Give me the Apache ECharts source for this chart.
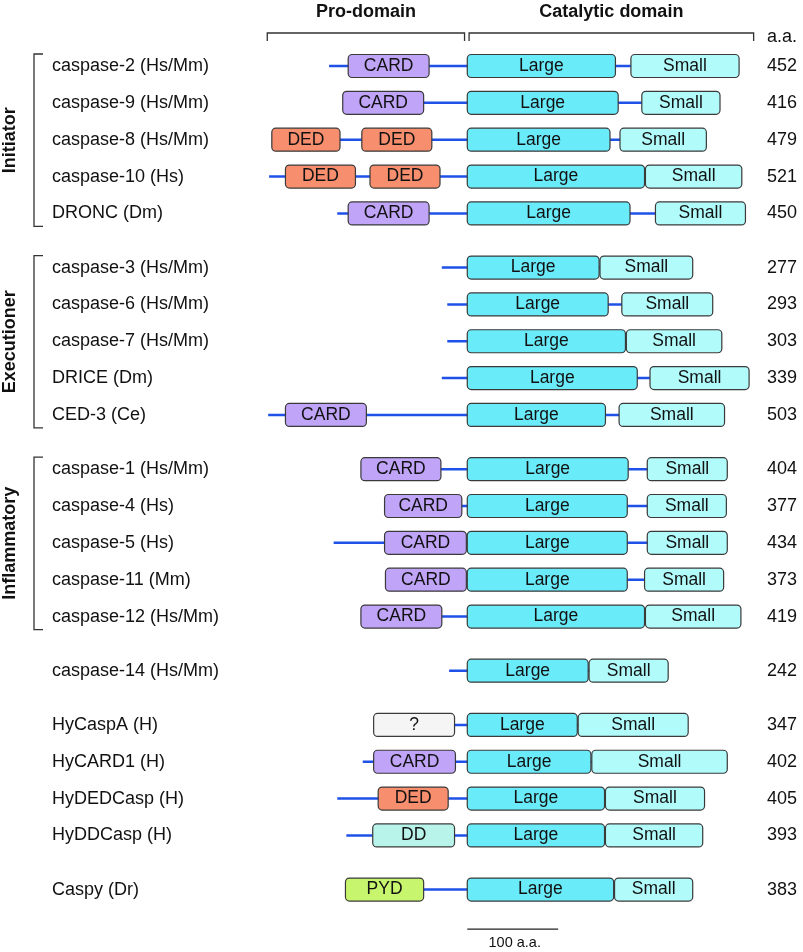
<!DOCTYPE html>
<html>
<head>
<meta charset="utf-8">
<script src="https://cdn.jsdelivr.net/npm/echarts@6/dist/echarts.min.js"></script>
<style>
  html, body { margin: 0; padding: 0; background: #fff; }
  #chart { width: 803px; height: 952px; }
</style>
</head>
<body>
<div id="chart"></div>
<script>
// protein names (top to bottom)
const names = [
  'caspase-2 (Hs/Mm)', 'caspase-9 (Hs/Mm)', 'caspase-8 (Hs/Mm)', 'caspase-10 (Hs)', 'DRONC (Dm)',
  'caspase-3 (Hs/Mm)', 'caspase-6 (Hs/Mm)', 'caspase-7 (Hs/Mm)', 'DRICE (Dm)', 'CED-3 (Ce)',
  'caspase-1 (Hs/Mm)', 'caspase-4 (Hs)', 'caspase-5 (Hs)', 'caspase-11 (Mm)', 'caspase-12 (Hs/Mm)',
  'caspase-14 (Hs/Mm)',
  'HyCaspA (H)', 'HyCARD1 (H)', 'HyDEDCasp (H)', 'HyDDCasp (H)',
  'Caspy (Dr)'
]
// total length in amino acids
const lengths = [452, 416, 479, 521, 450, 277, 293, 303, 339, 503, 404, 377, 434, 373, 419, 242, 347, 402, 405, 393, 383]
// large subunit [start, end] (residues)
const largeDomain = [
  [153, 316], [138, 304], [216, 373], [219, 414], [144, 323],
  [29, 174], [23, 178], [23, 197], [29, 216], [220, 372],
  [118, 295], [92, 268], [148, 324], [91, 267], [118, 313],
  [21, 154],
  [104, 225], [116, 252], [144, 295], [134, 285],
  [135, 296]
]
// small subunit [start, end]
const smallDomain = [
  [333, 452], [330, 416], [384, 479], [415, 521], [351, 450],
  [175, 277], [193, 293], [198, 303], [230, 339], [387, 503],
  [316, 404], [290, 377], [346, 434], [286, 373], [314, 419],
  [155, 242],
  [226, 347], [253, 402], [296, 405], [286, 393],
  [297, 383]
]
// pro-domains [type, start, end]
const proDomains = [
  [['CARD', 22, 111]],
  [['CARD', 1, 90]],
  [['DED', 1, 76], ['DED', 100, 177]],
  [['DED', 19, 96], ['DED', 112, 189]],
  [['CARD', 13, 102]],
  [], [], [], [],
  [['CARD', 20, 109]],
  [['CARD', 1, 89]],
  [['CARD', 1, 86]],
  [['CARD', 57, 147]],
  [['CARD', 1, 90]],
  [['CARD', 1, 90]],
  [],
  [['?', 1, 90]],
  [['CARD', 13, 103]],
  [['DED', 46, 123]],
  [['DD', 30, 120]],
  [['PYD', 1, 87]]
]
// groups: label and row count
const groupLabels = ['Initiator', 'Executioner', 'Inflammatory', '', '', '']
const groupSizes = [5, 5, 5, 1, 4, 1]

const domainTypes = ['Large', 'Small', 'CARD', 'DED', 'DD', 'PYD', '?']
const domainColors = ['#6aebfa', '#b2fbfb', '#c0a4f8', '#f78e6e', '#b8f4ea', '#c8f56e', '#f5f5f5']

const FONT = "'Liberation Sans', Arial, sans-serif"
const BOX_H = 23
const LINE_BLUE = '#1f50e8'
const GROUP_GAP = 0.47

// row positions: one unit per row, a bit less than half a unit extra between groups
const rowPos = []
const groupRanges = []
groupSizes.forEach((n, g) => {
  const first = rowPos.length
  for (let i = 0; i < n; i++) rowPos.push(rowPos.length + GROUP_GAP * g)
  groupRanges.push([rowPos[first], rowPos[rowPos.length - 1], g])
})

// x = residue - start of large subunit, so catalytic domains line up
const backboneData = names.map((_, i) => [1 - largeDomain[i][0], lengths[i] - largeDomain[i][0], rowPos[i]])
const domainData = []
names.forEach((_, i) => {
  const off = largeDomain[i][0]
  proDomains[i].forEach(d => {
    domainData.push([d[1] - off, d[2] - off, rowPos[i], domainTypes.indexOf(d[0])])
  })
  domainData.push([0, largeDomain[i][1] - off, rowPos[i], 0])
  domainData.push([smallDomain[i][0] - off, smallDomain[i][1] - off, rowPos[i], 1])
})

const chart = echarts.init(document.getElementById('chart'))

const option = {
  animation: false,
  grid: { left: 240, width: 500, top: 29.15, height: 921.25 },
  xAxis: { type: 'value', min: -250, max: 300, show: false },
  yAxis: { type: 'value', min: -1, max: 24, inverse: true, show: false },
  series: [
    {
      name: 'backbone',
      type: 'custom',
      encode: { x: [0, 1], y: 2 },
      data: backboneData,
      z: 1,
      renderItem: (params, api) => {
        const a = api.coord([api.value(0), api.value(2)])
        const b = api.coord([api.value(1), api.value(2)])
        return {
          type: 'line',
          shape: { x1: a[0], y1: a[1], x2: b[0], y2: b[1] },
          style: { stroke: LINE_BLUE, lineWidth: 2.5 }
        }
      }
    },
    {
      name: 'domains',
      type: 'custom',
      encode: { x: [0, 1], y: 2 },
      data: domainData,
      z: 2,
      renderItem: (params, api) => {
        const a = api.coord([api.value(0), api.value(2)])
        const b = api.coord([api.value(1), api.value(2)])
        const t = api.value(3)
        return {
          type: 'rect',
          shape: { x: a[0], y: a[1] - BOX_H / 2, width: b[0] - a[0], height: BOX_H, r: 4 },
          style: { fill: domainColors[t], stroke: '#3a3a3a', lineWidth: 1.2 },
          textContent: {
            style: { text: domainTypes[t], fontSize: 17.5, fontFamily: FONT, fill: '#111' }
          },
          textConfig: { position: 'inside' }
        }
      }
    },
    {
      name: 'rowLabels',
      type: 'custom',
      encode: { x: 0, y: 1 },
      data: names.map((_, i) => [0, rowPos[i]]),
      renderItem: (params, api) => {
        const y = api.coord([0, api.value(1)])[1]
        const i = params.dataIndex
        return {
          type: 'group',
          children: [
            { type: 'text', x: 52, y: y,
              style: { text: names[i], fontSize: 18, fontFamily: FONT, fill: '#111', align: 'left', verticalAlign: 'middle' } },
            { type: 'text', x: 797, y: y,
              style: { text: String(lengths[i]), fontSize: 18, fontFamily: FONT, fill: '#111', align: 'right', verticalAlign: 'middle' } }
          ]
        }
      }
    },
    {
      name: 'groups',
      type: 'custom',
      encode: { x: 0, y: [0, 1] },
      data: groupRanges.filter(r => groupLabels[r[2]]).map(r => [r[0], r[1], r[2]]),
      renderItem: (params, api) => {
        const top = api.coord([0, api.value(0)])[1] - 12
        const bot = api.coord([0, api.value(1)])[1] + 13
        return {
          type: 'group',
          children: [
            { type: 'polyline',
              shape: { points: [[43, top], [34, top], [34, bot], [43, bot]] },
              style: { stroke: '#333', lineWidth: 1.3, fill: null } },
            { type: 'text', x: 10, y: (top + bot) / 2, rotation: Math.PI / 2,
              style: { text: groupLabels[api.value(2)], fontSize: 18, fontWeight: 'bold', fontFamily: FONT,
                fill: '#111', align: 'center', verticalAlign: 'middle' } }
          ]
        }
      }
    },
    {
      name: 'headers',
      type: 'custom',
      encode: { x: [0, 1] },
      data: [[-220, -3, 0], [2, 315, 1]],
      renderItem: (params, api) => {
        const a = api.coord([api.value(0), -0.8955])
        const b = api.coord([api.value(1), -0.8955])
        const label = ['Pro-domain', 'Catalytic domain'][api.value(2)]
        return {
          type: 'group',
          children: [
            { type: 'polyline',
              shape: { points: [[a[0], a[1] + 8], [a[0], a[1]], [b[0], b[1]], [b[0], b[1] + 8]] },
              style: { stroke: '#333', lineWidth: 1.3, fill: null } },
            { type: 'text', x: (a[0] + b[0]) / 2, y: a[1] - 21,
              style: { text: label, fontSize: 18, fontWeight: 'bold', fontFamily: FONT, fill: '#111',
                align: 'center', verticalAlign: 'middle' } }
          ]
        }
      }
    },
    {
      name: 'scale',
      type: 'custom',
      encode: { x: [0, 1] },
      data: [[0, 100]],
      renderItem: (params, api) => {
        const a = api.coord([api.value(0), 23.42])
        const b = api.coord([api.value(1), 23.42])
        const aa = api.coord([0, -0.787])
        return {
          type: 'group',
          children: [
            { type: 'line', shape: { x1: a[0], y1: a[1], x2: b[0], y2: b[1] },
              style: { stroke: '#222', lineWidth: 1.3 } },
            { type: 'text', x: (a[0] + b[0]) / 2 + 2, y: a[1] + 14,
              style: { text: '100 a.a.', fontSize: 14.5, fontFamily: FONT, fill: '#111', align: 'center', verticalAlign: 'middle' } },
            { type: 'text', x: 797, y: aa[1],
              style: { text: 'a.a.', fontSize: 18, fontFamily: FONT, fill: '#111', align: 'right', verticalAlign: 'middle' } }
          ]
        }
      }
    }
  ]
}

chart.setOption(option)
</script>
</body>
</html>
